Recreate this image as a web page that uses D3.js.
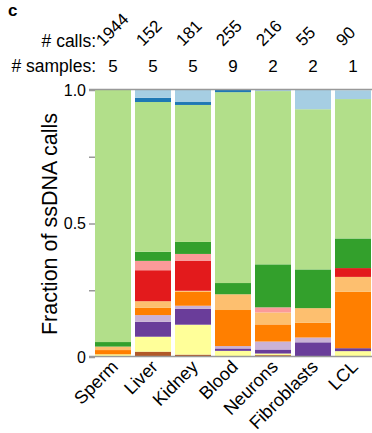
<!DOCTYPE html>
<html>
<head>
<meta charset="utf-8">
<script src="https://cdn.jsdelivr.net/npm/d3@7"></script>
<style>
  body { margin: 0; background: #fff; }
  text { font-family: Arial, "Liberation Sans", sans-serif; }
</style>
</head>
<body>
<div id="chart"></div>
<script>
var tissues = ["Sperm", "Liver", "Kidney", "Blood", "Neurons", "Fibroblasts", "LCL"];
var calls = ["1944", "152", "181", "255", "216", "55", "90"];
var samples = [5, 5, 5, 9, 2, 2, 1];
var yTicks = [0, 0.5, 1.0];

// stack order, bottom to top
var classes = ["c12", "c11", "c10", "c9", "c8", "c7", "c6", "c5", "c4", "c3", "c2", "c1"];
var classColors = ["#b15928", "#ffff99", "#6a3d9a", "#cab2d6", "#ff7f00", "#fdbf6f",
                   "#e31a1c", "#fb9a99", "#33a02c", "#b2df8a", "#1f78b4", "#a6cee3"];

// fraction of calls per class (same order as classes)
var sperm       = [0.002, 0.008, 0,     0,     0.016, 0.013, 0,     0,     0.017, 0.944, 0,     0];
var liver       = [0.020, 0.056, 0.056, 0.025, 0.027, 0.025, 0.116, 0.035, 0.034, 0.561, 0.016, 0.029];
var kidney      = [0.009, 0.112, 0.060, 0.011, 0.052, 0.004, 0.113, 0.025, 0.045, 0.513, 0.011, 0.045];
var blood       = [0.001, 0.022, 0.009, 0.009, 0.135, 0.059, 0,     0,     0.042, 0.715, 0.008, 0];
var neurons     = [0.007, 0.006, 0.015, 0.030, 0.064, 0.045, 0,     0.019, 0.161, 0.649, 0,     0.004];
var fibroblasts = [0,     0,     0.055, 0.018, 0.055, 0.055, 0,     0,     0.145, 0.600, 0,     0.073];
var lcl         = [0,     0.022, 0.011, 0,     0.211, 0.056, 0.033, 0,     0.111, 0.522, 0,     0.033];

var fractions = [sperm, liver, kidney, blood, neurons, fibroblasts, lcl];

var width = 372, height = 433;

var table = tissues.map(function (t, i) {
  var row = { tissue: t };
  classes.forEach(function (c, j) { row[c] = fractions[i][j]; });
  return row;
});

var series = d3.stack().keys(classes)(table);

var x = d3.scaleBand()
  .domain(tissues)
  .range([93, 373])
  .paddingInner(0.1)
  .paddingOuter(0.05);

var y = d3.scaleLinear()
  .domain([0, 1])
  .range([357, 90]);

var color = d3.scaleOrdinal().domain(classes).range(classColors);

function center(t) {
  return x(t) + x.bandwidth() / 2;
}

var svg = d3.select("#chart")
  .append("svg")
  .attr("width", width)
  .attr("height", height);

// bars
svg.append("g")
  .selectAll("g")
  .data(series)
  .enter()
  .append("g")
  .attr("fill", function (d) { return color(d.key); })
  .selectAll("rect")
  .data(function (d) { return d; })
  .enter()
  .append("rect")
  .attr("x", function (d) { return x(d.data.tissue); })
  .attr("width", x.bandwidth())
  .attr("y", function (d) { return y(d[1]); })
  .attr("height", function (d) { return y(d[0]) - y(d[1]); });

// top and bottom frame lines
svg.append("g")
  .selectAll("line")
  .data([0, 1])
  .enter()
  .append("line")
  .attr("x1", 89)
  .attr("x2", width)
  .attr("y1", function (d) { return y(d) - 0.5; })
  .attr("y2", function (d) { return y(d) - 0.5; })
  .attr("stroke", "#999")
  .attr("stroke-width", 1.5);

// y axis
var yAxis = svg.append("g")
  .attr("transform", "translate(95,0)")
  .call(d3.axisLeft(y)
    .tickValues([0, 0.25, 0.5, 0.75, 1])
    .tickSize(6)
    .tickPadding(3)
    .tickFormat(function (d) {
      return yTicks.indexOf(d) >= 0 ? (d === 0 ? "0" : d3.format(".1f")(d)) : "";
    }));
yAxis.select(".domain").remove();
yAxis.selectAll("line").attr("stroke", "#999").attr("stroke-width", 1.5);
yAxis.selectAll("text").style("font-size", "16px").attr("fill", "#000");

svg.append("text")
  .attr("transform", "translate(57,224)rotate(-90)")
  .attr("text-anchor", "middle")
  .attr("fill", "#000")
  .style("font-size", "21.5px")
  .text("Fraction of ssDNA calls");

// x labels
svg.append("g")
  .selectAll("g")
  .data(tissues)
  .enter()
  .append("g")
  .attr("transform", function (d) {
    return "translate(" + (center(d) + 6) + "," + 368 + ") rotate(-45)";
  })
  .append("text")
  .attr("text-anchor", "end")
  .attr("fill", "#000")
  .style("font-size", "18px")
  .text(function (d) { return d; });

// header rows
svg.append("text")
  .attr("x", 8)
  .attr("y", 16)
  .attr("fill", "#000")
  .style("font-size", "17px")
  .style("font-weight", "bold")
  .text("c");

svg.append("text")
  .attr("x", 96)
  .attr("y", 47)
  .attr("text-anchor", "end")
  .attr("fill", "#000")
  .style("font-size", "17.5px")
  .text("# calls:");

svg.append("text")
  .attr("x", 96)
  .attr("y", 72)
  .attr("text-anchor", "end")
  .attr("fill", "#000")
  .style("font-size", "17.5px")
  .text("# samples:");

// call counts, slanted up to the right
svg.append("g")
  .selectAll("g")
  .data(calls)
  .enter()
  .append("g")
  .attr("transform", function (d, i) {
    return "translate(" + (center(tissues[i]) - 10) + ",47) rotate(-45)";
  })
  .append("text")
  .attr("fill", "#000")
  .style("font-size", "17px")
  .text(function (d) { return d; });

svg.append("g")
  .selectAll("text")
  .data(samples)
  .enter()
  .append("text")
  .attr("text-anchor", "middle")
  .attr("fill", "#000")
  .style("font-size", "17px")
  .attr("x", function (d, i) { return center(tissues[i]); })
  .attr("y", 72)
  .text(function (d) { return d; });
</script>
</body>
</html>
